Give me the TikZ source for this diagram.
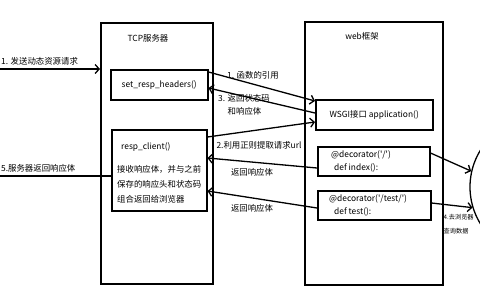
\documentclass[tikz,border=0pt]{standalone}
\usepackage{fontspec}
\setmainfont{Noto Sans CJK SC}[Ligatures=TeXOff]
\usetikzlibrary{arrows.meta}

\begin{document}
\begin{tikzpicture}[x=1pt,y=-1pt,font=\fontsize{8.4}{13}\selectfont,
   box/.style={draw,line width=1.5pt,anchor=north west,inner sep=0pt},
   lbl/.style={inner sep=0pt},
   arr/.style={line width=1.3pt,-{Straight Barb[length=4pt,width=9pt,line width=1.3pt]}}]
  \useasboundingbox (0,0) rectangle (480,300);
  % pixel grid of the 480x300 sketch, y running down

  % ---- frames ----
  \node[box,minimum width=112pt,minimum height=261pt] (tcp) at (100,22) {};
  \node[lbl] (tcptitle) at (148,38) {TCP服务器};
  \node[box,minimum width=138pt,minimum height=263pt] (web) at (304,21) {};
  \node[lbl] (webtitle) at (362,36) {web框架};

  % ---- tcp server side ----
  \node[box,minimum width=97pt,minimum height=30pt] (hdr) at (110,69) {set\_resp\_headers()};
  \node[box,minimum width=95pt,minimum height=81pt] (client) at (111,129) {};
  \node[lbl,anchor=west] (clientname) at (121,147) {resp\_client()};
  \node[lbl,anchor=north west,align=left,font=\fontsize{8.4}{15}\selectfont]
     (clientnote) at (117,165) {接收响应体，并与之前\\保存的响应头和状态码\\组合返回给浏览器};

  % ---- web framework side ----
  \node[box,minimum width=117pt,minimum height=30pt] (wsgi) at (315,99) {WSGI接口 application()};
  \node[box,minimum width=112pt,minimum height=29pt] (index) at (317,146) {};
  \node[lbl,anchor=west,align=left] (indexcode) at (331,161.5) {@decorator('/')\\\hspace{3pt}def index():};
  \node[box,minimum width=113pt,minimum height=29pt] (test) at (317,190) {};
  \node[lbl,anchor=west,align=left] (testcode) at (329,205.5) {@decorator('/test/')\\\hspace{5pt}def test():};

  % ---- browser side, cut off by the right edge ----
  \node[draw,circle,line width=1.3pt,minimum size=140pt] (db) at (540,187) {};

  % ---- request in / response out ----
  \coordinate (in1) at (-10,69);
  \coordinate (out5) at (-10,176);
  \draw[arr] (in1) -- (tcp.west |- in1);
  \node[lbl,anchor=west] (lin1) at (1,61) {1. 发送动态资源请求};
  \draw[arr] (client.west |- out5) -- (out5);
  \node[lbl,anchor=west] (lout5) at (1,168) {5.服务器返回响应体};

  % ---- calls between server and framework ----
  \draw[arr] ([yshift=-3pt]hdr.north east) -- ([yshift=-2pt]wsgi.north west);
  \node[lbl] (lref) at (253,75) {1. 函数的引用};
  \draw[arr] ([yshift=-14pt]wsgi.north west) -- ([yshift=-19pt]hdr.north east);
  \node[lbl,anchor=north west,align=left] (lstatus) at (218,94) {3. 返回状态码\\\phantom{3. }和响应体};
  \draw[arr] ([yshift=-8pt]client.north east) -- ([yshift=-23pt]wsgi.north west);
  \node[lbl] (lurl) at (259,145) {2.利用正则提取请求url};
  \draw[arr] ([yshift=-22pt]index.north west) -- ([yshift=-29pt]client.north east);
  \node[lbl] (lbody1) at (252,172) {返回响应体};
  \draw[arr] ([yshift=-18pt]test.north west) -- ([yshift=-62pt]client.north east);
  \node[lbl] (lbody2) at (252,208) {返回响应体};

  % ---- lookups ----
  \draw[arr] ([yshift=-7pt]index.north east) -- (db.167);
  \draw[arr] ([yshift=-13pt]test.north east) -- (db.197);
  \node[lbl,anchor=north west,align=left,font=\fontsize{6.2}{14}\selectfont] (lquery) at (443.5,214) {4.去浏览器\\查询数据};
\end{tikzpicture}
\end{document}
